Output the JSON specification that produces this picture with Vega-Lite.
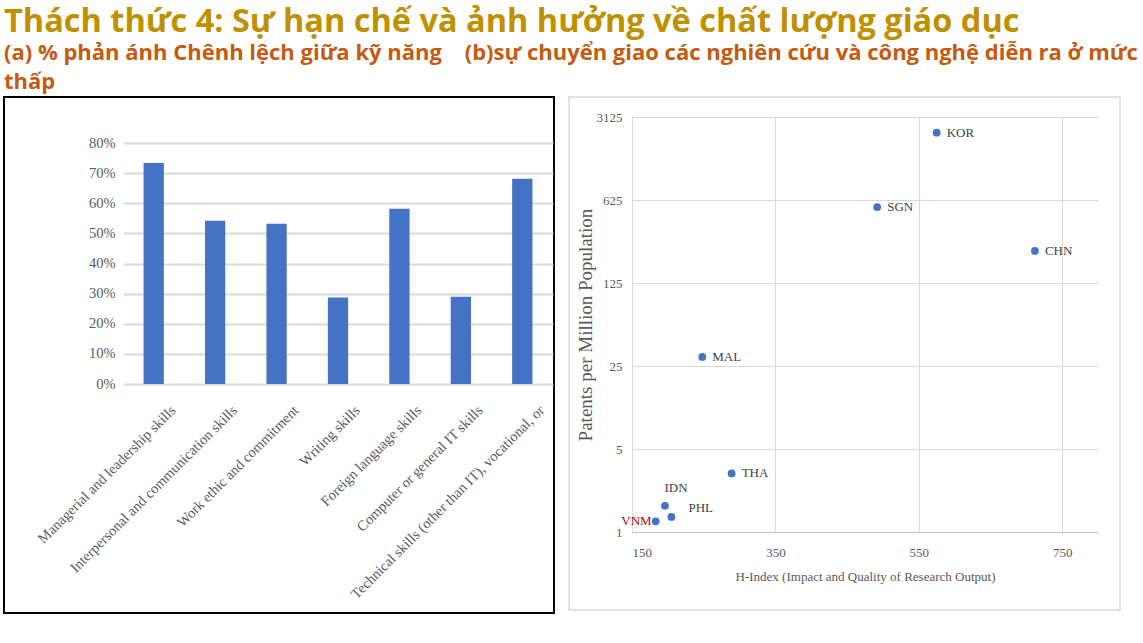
{
  "$schema": "https://vega.github.io/schema/vega-lite/v6.json",
  "background": "white",
  "padding": {"left": 3, "top": 5, "right": 0, "bottom": 0},
  "title": {
    "text": "Thách thức 4: Sự hạn chế và ảnh hưởng về chất lượng giáo dục",
    "subtitle": ["(a) % phản ánh Chênh lệch giữa kỹ năng\u00a0\u00a0\u00a0\u00a0(b)sự chuyển giao các nghiên cứu và công nghệ diễn ra ở mức", "thấp"],
    "anchor": "start",
    "frame": "group",
    "font": "Open Sans",
    "fontSize": 32.5,
    "fontWeight": "bold",
    "color": "#BF9000",
    "subtitleFont": "Open Sans",
    "subtitleFontSize": 22,
    "subtitleFontWeight": "bold",
    "subtitleColor": "#C55A11",
    "subtitleLineHeight": 29,
    "subtitlePadding": 5,
    "offset": 3
  },
  "spacing": 13,
  "hconcat": [
    {
      "width": 550,
      "height": 516,
      "view": {"stroke": "#000000", "strokeWidth": 2},
      "data": {
        "values": [
          {"skill": "Managerial and leadership skills", "pct": 0.734},
          {"skill": "Interpersonal and communication skills", "pct": 0.542},
          {"skill": "Work ethic and commitment", "pct": 0.532},
          {"skill": "Writing skills", "pct": 0.287},
          {"skill": "Foreign language skills", "pct": 0.582},
          {"skill": "Computer or general IT skills", "pct": 0.29},
          {"skill": "Technical skills (other than IT), vocational, or", "pct": 0.681}
        ]
      },
      "mark": {"type": "bar", "color": "#4472C4"},
      "encoding": {
        "x": {
          "field": "skill",
          "type": "nominal",
          "sort": null,
          "scale": {"range": [119, 549], "paddingInner": 0.67, "paddingOuter": 0.335},
          "axis": {
            "title": null,
            "labelAngle": -45,
            "labelAlign": "right",
            "labelBaseline": "middle",
            "labelFont": "Liberation Serif",
            "labelFontSize": 14.5,
            "labelColor": "#595959",
            "labelOffset": 20,
            "labelPadding": 24,
            "labelLimit": 400,
            "ticks": false,
            "domain": false,
            "offset": -229
          }
        },
        "y": {
          "field": "pct",
          "type": "quantitative",
          "scale": {"domain": [0, 0.8], "range": [287, 46]},
          "axis": {
            "title": null,
            "format": ".0%",
            "values": [0, 0.1, 0.2, 0.3, 0.4, 0.5, 0.6, 0.7, 0.8],
            "grid": true,
            "gridColor": "#D9D9D9",
            "gridWidth": 2,
            "domain": false,
            "ticks": false,
            "labelFont": "Liberation Serif",
            "labelFontSize": 14.5,
            "labelColor": "#595959",
            "labelPadding": 8,
            "offset": -119
          }
        }
      }
    },
    {
      "width": 551,
      "height": 513,
      "view": {"stroke": "#D9D9D9", "strokeWidth": 1.5},
      "data": {
        "values": [
          {"country": "KOR", "h": 575, "p": 2306},
          {"country": "SGN", "h": 492, "p": 545},
          {"country": "CHN", "h": 712, "p": 233},
          {"country": "MAL", "h": 248, "p": 29.8},
          {"country": "THA", "h": 289, "p": 3.11},
          {"country": "IDN", "h": 196, "p": 1.66},
          {"country": "PHL", "h": 205, "p": 1.34},
          {"country": "VNM", "h": 183, "p": 1.23}
        ]
      },
      "encoding": {
        "x": {
          "field": "h",
          "type": "quantitative",
          "scale": {"domain": [150, 800], "range": [63, 529], "nice": false, "zero": false},
          "axis": null
        },
        "y": {
          "field": "p",
          "type": "quantitative",
          "scale": {"type": "log", "base": 5, "domain": [1, 3125], "range": [435, 20]},
          "axis": {
            "title": "Patents per Million Population",
            "values": [1, 5, 25, 125, 625, 3125],
            "format": "d",
            "grid": true,
            "gridColor": "#D9D9D9",
            "domain": false,
            "ticks": false,
            "labelFont": "Liberation Serif",
            "labelFontSize": 13,
            "labelColor": "#595959",
            "labelPadding": 10,
            "titleFont": "Liberation Serif",
            "titleFontSize": 19,
            "titleFontWeight": "normal",
            "titleColor": "#595959",
            "titlePadding": 1,
            "offset": -63
          }
        }
      },
      "layer": [
        {
          "mark": {"type": "point", "opacity": 0},
          "encoding": {
            "x": {
              "field": "h",
              "type": "quantitative",
              "scale": {"domain": [150, 800], "range": [63, 529], "nice": false, "zero": false},
              "axis": {
                "orient": "top",
                "values": [150, 350, 550, 750],
                "grid": true,
                "gridColor": "#D9D9D9",
                "labels": false,
                "ticks": false,
                "domain": false,
                "title": null
              }
            }
          }
        },
        {
          "mark": {"type": "point", "filled": true, "size": 60, "color": "#4472C4", "opacity": 1},
          "encoding": {
            "x": {
              "field": "h",
              "type": "quantitative",
              "scale": {"domain": [150, 800], "range": [63, 529], "nice": false, "zero": false},
              "axis": {
                "orient": "bottom",
                "title": "H-Index (Impact and Quality of Research Output)",
                "values": [150, 350, 550, 750],
                "grid": false,
                "domain": true,
                "domainColor": "#BFBFBF",
                "ticks": false,
                "labelFont": "Liberation Serif",
                "labelFontSize": 13,
                "labelColor": "#595959",
                "labelPadding": 14,
                "titleFont": "Liberation Serif",
                "titleFontSize": 13,
                "titleFontWeight": "normal",
                "titleColor": "#595959",
                "titlePadding": 11,
                "offset": -78
              }
            }
          }
        },
        {
          "transform": [{"filter": {"field": "country", "oneOf": ["KOR", "SGN", "CHN", "MAL", "THA"]}}],
          "mark": {"type": "text", "align": "left", "baseline": "middle", "dx": 10, "font": "Liberation Serif", "fontSize": 13, "color": "#404040"},
          "encoding": {"text": {"field": "country"}}
        },
        {
          "transform": [{"filter": {"field": "country", "equal": "IDN"}}],
          "mark": {"type": "text", "align": "center", "baseline": "middle", "dx": 11, "dy": -18, "font": "Liberation Serif", "fontSize": 13, "color": "#404040"},
          "encoding": {"text": {"field": "country"}}
        },
        {
          "transform": [{"filter": {"field": "country", "equal": "PHL"}}],
          "mark": {"type": "text", "align": "left", "baseline": "middle", "dx": 17, "dy": -9, "font": "Liberation Serif", "fontSize": 13, "color": "#404040"},
          "encoding": {"text": {"field": "country"}}
        },
        {
          "transform": [{"filter": {"field": "country", "equal": "VNM"}}],
          "mark": {"type": "text", "align": "right", "baseline": "middle", "dx": -4, "font": "Liberation Serif", "fontSize": 13, "color": "#C00000"},
          "encoding": {"text": {"field": "country"}}
        }
      ],
      "resolve": {"axis": {"x": "independent"}}
    }
  ]
}
